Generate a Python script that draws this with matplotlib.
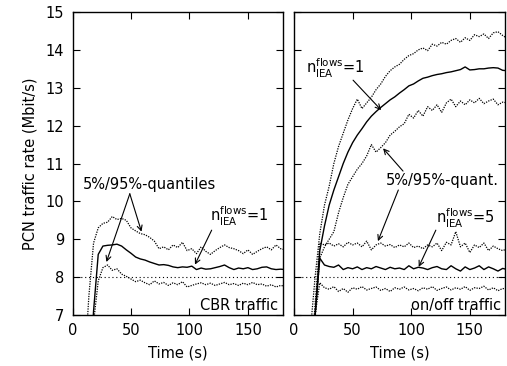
import matplotlib
matplotlib.use("Agg")
import matplotlib.pyplot as plt

plt.rcParams['font.family'] = ['DejaVu Sans']
plt.rcParams['mathtext.fontset'] = 'dejavusans'

# time grid (s)
time = [10, 14, 18, 22, 26, 30, 34, 38, 42, 46, 50, 54, 58, 62, 66, 70, 74, 78, 82, 86,
        90, 94, 98, 102, 106, 110, 114, 118, 122, 126, 130, 134, 138, 142, 146, 150, 154,
        158, 162, 166, 170, 174, 178, 182]

# ---- CBR traffic, n_IEA^flows = 1 ----
cbr_median = [4.0, 5.0, 7.1, 8.6, 8.82, 8.84, 8.85, 8.87, 8.82, 8.72, 8.63, 8.53, 8.48, 8.45,
              8.40, 8.36, 8.32, 8.33, 8.31, 8.27, 8.25, 8.27, 8.26, 8.29, 8.20, 8.24, 8.21,
              8.22, 8.25, 8.28, 8.32, 8.25, 8.20, 8.24, 8.22, 8.25, 8.20, 8.22, 8.26, 8.27,
              8.22, 8.20, 8.21, 8.20]
cbr_q95 = [5.5, 7.5, 8.9, 9.3, 9.42, 9.45, 9.60, 9.52, 9.55, 9.50, 9.30, 9.22, 9.15, 9.12,
           9.05, 8.95, 8.75, 8.80, 8.72, 8.85, 8.78, 8.92, 8.70, 8.75, 8.62, 8.80, 8.68,
           8.60, 8.70, 8.78, 8.85, 8.78, 8.75, 8.70, 8.62, 8.72, 8.60, 8.68, 8.75, 8.80,
           8.72, 8.85, 8.75, 8.72]
cbr_q05 = [4.0, 5.0, 6.8, 7.9, 8.25, 8.32, 8.18, 8.22, 8.08, 8.02, 7.95, 7.88, 7.92, 7.85,
           7.80, 7.90, 7.82, 7.86, 7.78, 7.85, 7.80, 7.88, 7.74, 7.78, 7.82, 7.85, 7.80,
           7.84, 7.78, 7.82, 7.86, 7.80, 7.83, 7.78, 7.84, 7.80, 7.86, 7.80, 7.82, 7.76,
           7.80, 7.74, 7.78, 7.76]

# ---- on/off traffic, n_IEA^flows = 1 ----
onoff1_median = [4.0, 5.5, 7.0, 8.7, 9.35, 9.9, 10.3, 10.65, 11.0, 11.3, 11.55, 11.75, 11.92,
                 12.1, 12.25, 12.37, 12.48, 12.58, 12.68, 12.76, 12.86, 12.95, 13.05, 13.1,
                 13.18, 13.25, 13.28, 13.32, 13.35, 13.37, 13.4, 13.42, 13.45, 13.48, 13.55,
                 13.47, 13.48, 13.5, 13.5, 13.52, 13.53, 13.52, 13.46, 13.45]
onoff1_q95 = [4.5, 6.6, 8.0, 9.15, 9.9, 10.4, 11.0, 11.45, 11.8, 12.15, 12.45, 12.7, 12.45,
              12.6, 12.75, 12.95, 13.1, 13.3, 13.45, 13.55, 13.62, 13.75, 13.85, 13.9, 14.0,
              14.05, 13.98, 14.15, 14.1, 14.2, 14.15, 14.25, 14.3, 14.2, 14.32, 14.25, 14.4,
              14.35, 14.42, 14.3, 14.45, 14.48, 14.38, 14.3]
onoff1_q05 = [4.0, 5.5, 6.9, 8.5, 8.8, 9.0, 9.2, 9.7, 10.1, 10.45, 10.65, 10.85, 11.0, 11.2,
              11.5, 11.3, 11.42, 11.55, 11.75, 11.85, 11.97, 12.05, 12.3, 12.2, 12.4, 12.25,
              12.5, 12.4, 12.55, 12.35, 12.6, 12.7, 12.5, 12.65, 12.55, 12.68, 12.6, 12.72,
              12.58, 12.65, 12.7, 12.55, 12.62, 12.6]

# ---- on/off traffic, n_IEA^flows = 5 ----
onoff5_median = [4.0, 5.5, 7.0, 8.5, 8.32, 8.28, 8.26, 8.32, 8.20, 8.25, 8.22, 8.27, 8.20,
                 8.25, 8.22, 8.28, 8.24, 8.20, 8.26, 8.22, 8.24, 8.20, 8.30, 8.22, 8.26, 8.24,
                 8.20, 8.25, 8.28, 8.22, 8.20, 8.30, 8.22, 8.16, 8.27, 8.20, 8.24, 8.30, 8.20,
                 8.27, 8.22, 8.16, 8.23, 8.20]
onoff5_q95 = [4.0, 5.5, 7.3, 8.9, 8.85, 8.9, 8.82, 8.88, 8.80, 8.92, 8.85, 8.90, 8.80, 8.95,
              8.72, 8.85, 8.90, 8.82, 8.86, 8.78, 8.85, 8.80, 8.90, 8.78, 8.82, 8.75, 8.85,
              8.80, 8.90, 8.70, 8.92, 8.85, 9.20, 8.80, 8.90, 8.65, 8.85, 8.78, 8.90, 8.70,
              8.82, 8.75, 8.70, 8.75]
onoff5_q05 = [4.0, 5.5, 7.0, 7.85, 7.72, 7.68, 7.75, 7.62, 7.70, 7.60, 7.72, 7.68, 7.75, 7.66,
              7.70, 7.74, 7.65, 7.70, 7.62, 7.72, 7.68, 7.74, 7.66, 7.70, 7.64, 7.72, 7.68,
              7.75, 7.65, 7.70, 7.74, 7.66, 7.72, 7.68, 7.75, 7.65, 7.72, 7.70, 7.76, 7.66,
              7.72, 7.64, 7.70, 7.68]

reference_rate = 8.0
x_ticks = [0, 50, 100, 150]
y_ticks = [7, 8, 9, 10, 11, 12, 13, 14, 15]

FS = 10.5
fig = plt.figure(figsize=(5.07, 3.66), dpi=100)
ax1 = fig.add_axes([72.5 / 507, 51 / 366, 210.5 / 507, 303 / 366])
ax2 = fig.add_axes([294 / 507, 51 / 366, 211 / 507, 303 / 366])

solid = dict(color='black', lw=1.0, ls='-')
dotted = dict(color='black', lw=0.9, ls=(0, (1, 1.0)))

ax1.plot(time, cbr_q95, **dotted)
ax1.plot(time, cbr_q05, **dotted)
ax1.plot(time, cbr_median, **solid)

ax2.plot(time, onoff1_q95, **dotted)
ax2.plot(time, onoff1_q05, **dotted)
ax2.plot(time, onoff1_median, **solid)
ax2.plot(time, onoff5_q95, **dotted)
ax2.plot(time, onoff5_q05, **dotted)
ax2.plot(time, onoff5_median, **solid)

for ax in (ax1, ax2):
    ax.axhline(reference_rate, color='black', lw=0.8, ls=(0, (1, 2.5)))
    ax.set_xlim(0, 180)
    ax.set_ylim(7, 15)
    ax.set_xticks(x_ticks)
    ax.set_yticks(y_ticks)
    ax.tick_params(direction='in', top=True, right=True, length=5, width=0.8,
                   labelsize=FS, pad=6)
    ax.set_xlabel('Time (s)', fontsize=FS, labelpad=5)
    for s in ax.spines.values():
        s.set_linewidth(1.0)

ax1.set_ylabel('PCN traffic rate (Mbit/s)', fontsize=FS, labelpad=6)
ax2.tick_params(labelleft=False)

arrow = dict(arrowstyle='->', color='black', lw=0.8, shrinkA=0, shrinkB=0,
             mutation_scale=9)
nlabel1 = r'$\mathregular{n_{IEA}^{flows}}$=1'
nlabel5 = r'$\mathregular{n_{IEA}^{flows}}$=5'

# left panel annotations
ax1.text(66, 10.45, '5%/95%-quantiles', fontsize=FS, ha='center', va='center')
ax1.annotate('', xy=(59, 9.2), xytext=(49, 10.2), arrowprops=arrow)
ax1.annotate('', xy=(29, 8.4), xytext=(49, 10.2), arrowprops=arrow)
ax1.text(118, 9.46, nlabel1, fontsize=FS, ha='left', va='baseline')
ax1.annotate('', xy=(104.7, 8.33), xytext=(119, 9.24), arrowprops=arrow)
ax1.text(176, 7.12, 'CBR traffic', fontsize=FS, ha='right', va='baseline')

# right panel annotations
ax2.text(10.5, 13.38, nlabel1, fontsize=FS, ha='left', va='baseline')
ax2.annotate('', xy=(74.4, 12.41), xytext=(50.4, 13.2), arrowprops=arrow)
ax2.text(175, 10.43, '5%/95%-quant.', fontsize=FS, ha='right', va='baseline')
ax2.annotate('', xy=(76, 11.4), xytext=(93, 10.8), arrowprops=arrow)
ax2.annotate('', xy=(71.6, 8.95), xytext=(89, 10.3), arrowprops=arrow)
ax2.text(121, 9.42, nlabel5, fontsize=FS, ha='left', va='baseline')
ax2.annotate('', xy=(106.4, 8.27), xytext=(121, 9.24), arrowprops=arrow)
ax2.text(177, 7.12, 'on/off traffic', fontsize=FS, ha='right', va='baseline')

fig.savefig('out.png', dpi=100)
